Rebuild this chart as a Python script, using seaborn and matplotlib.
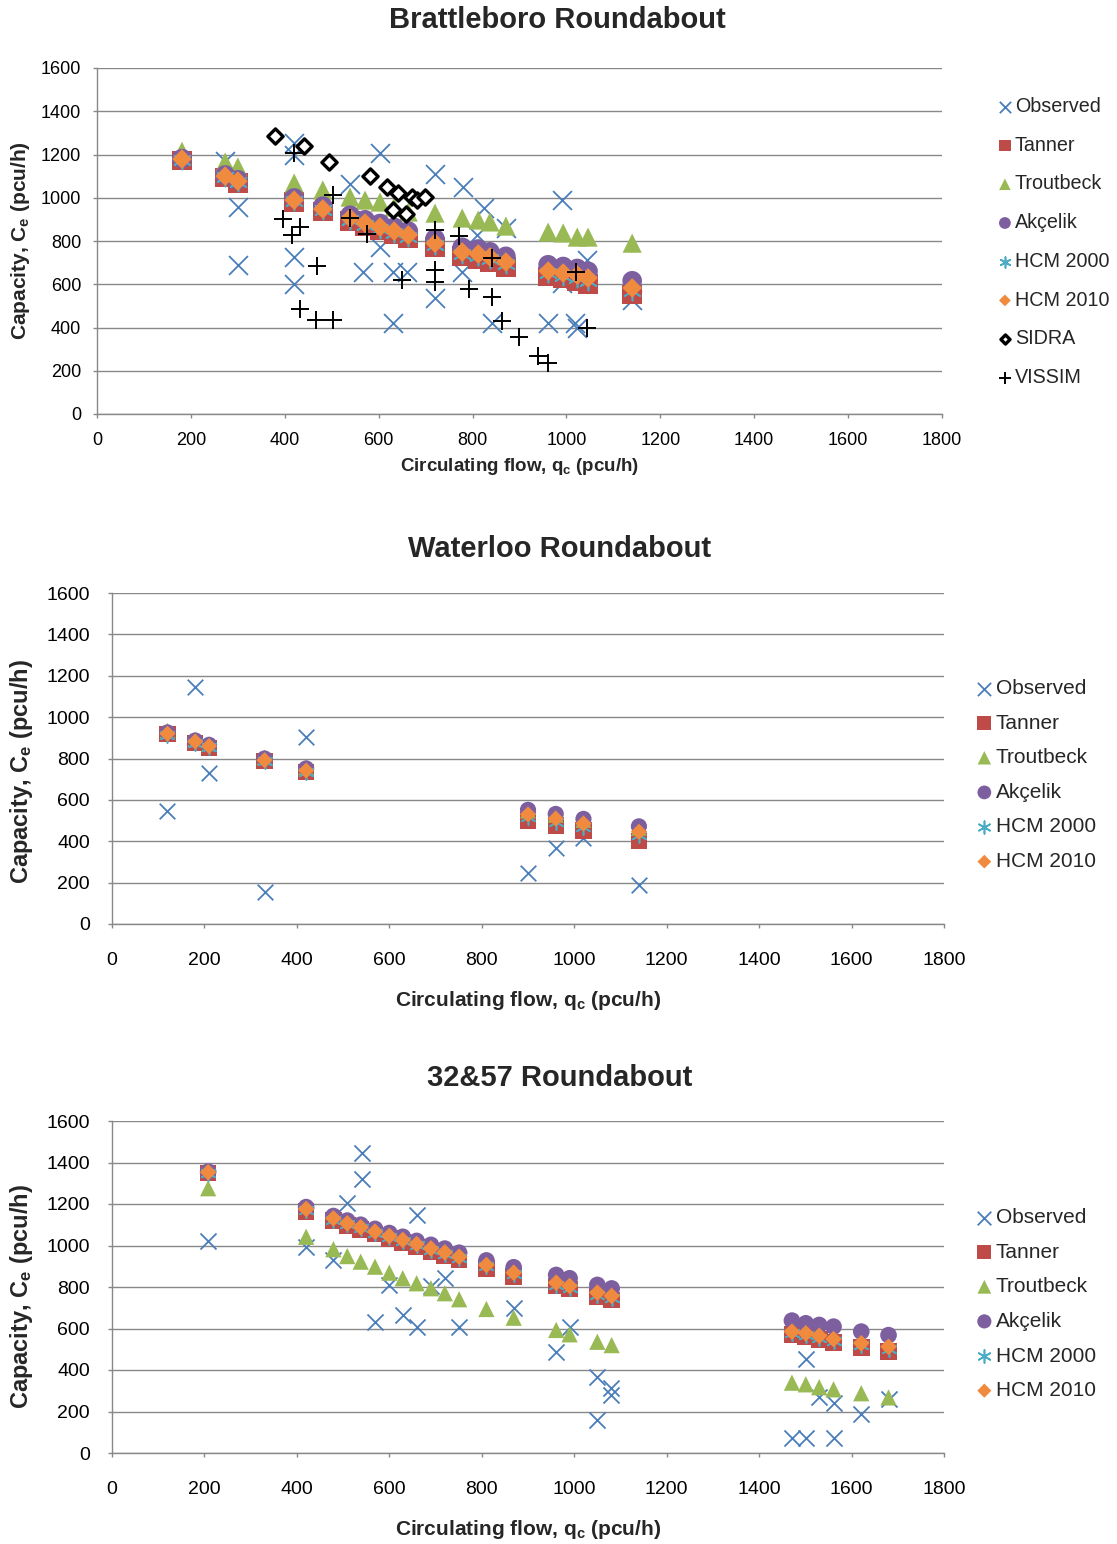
import numpy as np
import pandas as pd
import matplotlib
matplotlib.use("Agg")
import matplotlib.pyplot as plt
import seaborn as sns

# ---------------- DATA ----------------
# Brattleboro roundabout
b_q = [181, 273, 300, 420, 481, 539, 571, 603, 633, 663, 720, 778, 812, 837, 871, 961, 993, 1023, 1046, 1140]
b_tanner = [1172, 1093, 1068, 979, 937, 893, 870, 851, 831, 812, 772, 730, 718, 703, 680, 636, 626, 615, 600, 552]
b_troutbeck = [1215, 1165, 1142, 1068, 1036, 1003, 989, 980, 957, 934, 929, 906, 897, 888, 869, 841, 837, 818, 818, 790]
b_akcelik = [1181, 1105, 1083, 999, 961, 919, 898, 881, 863, 846, 810, 771, 763, 750, 729, 690, 682, 673, 660, 616]
b_hcm2000 = [1176, 1097, 1073, 984, 942, 899, 876, 857, 838, 820, 781, 740, 730, 716, 693, 650, 640, 630, 616, 570]
b_hcm2010 = [1179, 1100, 1077, 989, 948, 906, 883, 865, 846, 828, 790, 749, 740, 726, 703, 661, 652, 643, 629, 583]
b_obs_q = [273, 300, 300, 420, 420, 420, 420, 539, 567, 603, 603, 631, 631, 660, 720, 720, 778, 780, 809, 824, 841, 871, 961, 991, 991, 1018, 1023, 1044, 1140]
b_obs_c = [1170, 957, 689, 1253, 1197, 726, 601, 1065, 656, 1207, 772, 656, 421, 656, 1110, 538, 656, 1049, 828, 952, 421, 860, 421, 989, 605, 421, 398, 712, 527]
b_sidra_q = [379, 441, 494, 582, 618, 641, 671, 682, 699, 631, 658]
b_sidra_c = [1285, 1239, 1165, 1100, 1049, 1022, 1003, 989, 1003, 943, 925]
b_vissim_q = [396, 420, 432, 415, 503, 469, 432, 467, 503, 539, 575, 650, 720, 720, 720, 771, 841, 792, 841, 863, 899, 940, 961, 1020, 1044]
b_vissim_c = [902, 1207, 866, 828, 1012, 684, 485, 435, 435, 906, 832, 620, 851, 666, 610, 823, 721, 578, 541, 430, 356, 268, 236, 656, 398]

# Waterloo roundabout
w_q = [120, 180, 210, 330, 420, 900, 960, 1020, 1140]
w_obs = [548, 1147, 728, 156, 905, 245, 366, 414, 188]
w_tanner = [918, 876, 852, 786, 736, 500, 476, 452, 400]
w_troutbeck = [935, 892, 870, 805, 757, 548, 528, 503, 465]
w_akcelik = [926, 887, 866, 800, 752, 552, 532, 508, 472]
w_hcm2000 = [916, 876, 855, 786, 737, 518, 494, 470, 428]
w_hcm2010 = [920, 882, 860, 792, 742, 530, 510, 486, 446]

# 32&57 roundabout
r_q = [208, 420, 479, 509, 538, 569, 600, 629, 659, 690, 720, 751, 810, 869, 961, 990, 1050, 1081, 1471, 1501, 1530, 1561, 1621, 1680]
r_tanner = [1350, 1165, 1120, 1097, 1076, 1055, 1034, 1013, 993, 972, 952, 932, 890, 852, 805, 790, 755, 738, 570, 560, 547, 532, 508, 490]
r_troutbeck = [1276, 1042, 982, 949, 922, 898, 869, 842, 818, 794, 770, 741, 694, 652, 593, 572, 536, 520, 339, 331, 317, 307, 288, 268]
r_akcelik = [1356, 1185, 1142, 1120, 1100, 1080, 1060, 1042, 1022, 1003, 985, 965, 928, 895, 858, 842, 810, 793, 638, 625, 617, 609, 585, 568]
r_hcm2000 = [1350, 1170, 1125, 1102, 1082, 1061, 1040, 1021, 1001, 980, 961, 940, 899, 861, 812, 796, 763, 747, 576, 568, 556, 540, 519, 501]
r_hcm2010 = [1353, 1176, 1131, 1107, 1088, 1067, 1046, 1027, 1007, 986, 967, 946, 906, 869, 821, 805, 773, 757, 585, 577, 565, 549, 529, 512]
r_obs_q = [208, 420, 479, 509, 540, 540, 569, 600, 629, 659, 659, 690, 720, 751, 869, 961, 990, 1050, 1050, 1079, 1079, 1471, 1501, 1501, 1530, 1562, 1562, 1621, 1680]
r_obs_c = [1023, 994, 930, 1203, 1444, 1320, 633, 810, 665, 1147, 606, 805, 842, 606, 697, 488, 609, 368, 159, 312, 280, 71, 452, 71, 268, 240, 71, 188, 259]

x_ticks = [0, 200, 400, 600, 800, 1000, 1200, 1400, 1600, 1800]
y_ticks = [0, 200, 400, 600, 800, 1000, 1200, 1400, 1600]
titles = ["Brattleboro Roundabout", "Waterloo Roundabout", "32&57 Roundabout"]

# ---------------- STYLE ----------------
sns.set_theme(style="white")
plt.rcParams['font.family'] = ['Liberation Sans', 'DejaVu Sans']
plt.rcParams['mathtext.fontset'] = 'custom'
plt.rcParams['mathtext.rm'] = 'Liberation Sans'
plt.rcParams['mathtext.bf'] = 'Liberation Sans:bold'
plt.rcParams['mathtext.it'] = 'Liberation Sans:italic'

BLUE = "#4A7EBB"
RED = "#BE4B48"
GREEN = "#98B954"
PURPLE = "#7D5FA0"
CYAN = "#4BACC6"
ORANGE = "#EF8A3E"
GRID = "#888888"

W, H = 1117, 1544
fig = plt.figure(figsize=(W / 100, H / 100), dpi=100)


def add_axes(left, top, right, bottom):
    return fig.add_axes([left / W, 1 - bottom / H, (right - left) / W, (bottom - top) / H])


def styles(k):
    return {
        "Observed": dict(marker="x", color=BLUE, s=185 * k, linewidth=1.3),
        "Tanner": dict(marker="s", color=RED, s=200 * k, linewidth=0, edgecolor="none"),
        "Troutbeck": dict(marker="^", color=GREEN, s=190 * k, linewidth=0, edgecolor="none"),
        "Akçelik": dict(marker="o", color=PURPLE, s=200 * k, linewidth=0, edgecolor="none"),
        "HCM 2000": dict(marker=(6, 2, 0), color=CYAN, s=170 * k, linewidth=1.2),
        "HCM 2010": dict(marker="D", color=ORANGE, s=100 * k, linewidth=0, edgecolor="none"),
        "SIDRA": dict(marker="D", color="white", edgecolor="black", s=60, linewidth=2.4),
        "VISSIM": dict(marker="+", color="black", s=180, linewidth=1.4),
    }


def setup(ax, tick_fs, xpad, ypad, xlabel_fs, ylabel_fs, xl_y, yl_x, yl_y):
    ax.set_xlim(0, 1800)
    ax.set_ylim(0, 1600)
    ax.set_xticks(x_ticks)
    ax.set_yticks(y_ticks)
    ax.yaxis.grid(True, color=GRID, linewidth=1.0)
    ax.xaxis.grid(False)
    ax.set_axisbelow(True)
    for sp in ["top", "right"]:
        ax.spines[sp].set_visible(False)
    for sp in ["left", "bottom"]:
        ax.spines[sp].set_color(GRID)
        ax.spines[sp].set_linewidth(1.0)
    ax.tick_params(axis="both", direction="out", length=3, width=1.0, color=GRID,
                   labelsize=tick_fs, labelcolor="black")
    ax.tick_params(axis="x", pad=xpad, bottom=True)
    ax.tick_params(axis="y", pad=ypad, left=True)
    ax.set_xlabel(r"Circulating flow, q$_{\mathbf{c}}$ (pcu/h)", fontsize=xlabel_fs,
                  fontweight="bold")
    ax.set_ylabel(r"Capacity, C$_{\mathbf{e}}$ (pcu/h)", fontsize=ylabel_fs,
                  fontweight="bold")
    ax.xaxis.set_label_coords(0.5, xl_y)
    ax.xaxis.label.set_va("center")
    ax.yaxis.set_label_coords(yl_x, yl_y)
    ax.yaxis.label.set_va("center")


def draw(ax, series, k):
    st = styles(k)
    for name, q, c in series:
        sns.scatterplot(x=q, y=c, ax=ax, label=name, **st[name])


# ---------------- PANEL 1 ----------------
ax1 = add_axes(97, 68, 942, 414)
draw(ax1, [
    ("Observed", b_obs_q, b_obs_c),
    ("Tanner", b_q, b_tanner),
    ("Troutbeck", b_q, b_troutbeck),
    ("Akçelik", b_q, b_akcelik),
    ("HCM 2000", b_q, b_hcm2000),
    ("HCM 2010", b_q, b_hcm2010),
    ("SIDRA", b_sidra_q, b_sidra_c),
    ("VISSIM", b_vissim_q, b_vissim_c),
], 1.0)
setup(ax1, 13, 9.8, 8.5, 13.5, 15.0, -0.153, -0.09, 0.5)
ax1.legend(loc="upper left", bbox_to_anchor=(998 / W, 1 - 97 / H), bbox_transform=fig.transFigure,
           frameon=False, fontsize=14.2, markerscale=0.6, handlelength=0.7, handletextpad=0.16,
           labelspacing=1.0, borderpad=0, borderaxespad=0)

# ---------------- PANEL 2 ----------------
ax2 = add_axes(112, 593, 944, 924)
draw(ax2, [
    ("Observed", w_q, w_obs),
    ("Tanner", w_q, w_tanner),
    ("Troutbeck", w_q, w_troutbeck),
    ("Akçelik", w_q, w_akcelik),
    ("HCM 2000", w_q, w_hcm2000),
    ("HCM 2010", w_q, w_hcm2010),
], 0.68)
setup(ax2, 14, 17.5, 12.8, 15, 17, -0.2326, -0.109, 0.46)
ax2.legend(loc="upper left", bbox_to_anchor=(976 / W, 1 - 679 / H), bbox_transform=fig.transFigure,
           frameon=False, fontsize=15, markerscale=0.85, handlelength=0.8, handletextpad=0.16,
           labelspacing=0.75, borderpad=0, borderaxespad=0)

# ---------------- PANEL 3 ----------------
ax3 = add_axes(112, 1121, 944, 1453)
draw(ax3, [
    ("Observed", r_obs_q, r_obs_c),
    ("Tanner", r_q, r_tanner),
    ("Troutbeck", r_q, r_troutbeck),
    ("Akçelik", r_q, r_akcelik),
    ("HCM 2000", r_q, r_hcm2000),
    ("HCM 2010", r_q, r_hcm2010),
], 0.72)
setup(ax3, 14, 17, 12.8, 15, 17, -0.2319, -0.109, 0.47)
ax3.legend(loc="upper left", bbox_to_anchor=(976 / W, 1 - 1208 / H), bbox_transform=fig.transFigure,
           frameon=False, fontsize=15, markerscale=0.85, handlelength=0.8, handletextpad=0.16,
           labelspacing=0.75, borderpad=0, borderaxespad=0)

# ---------------- TITLES ----------------
for (tx, ty), t in zip([(557, 20), (560, 549), (560, 1078)], titles):
    fig.text(tx / W, 1 - ty / H, t, ha="center", va="center", fontsize=21, fontweight="bold")

fig.savefig("out.png", dpi=100, facecolor="white")
